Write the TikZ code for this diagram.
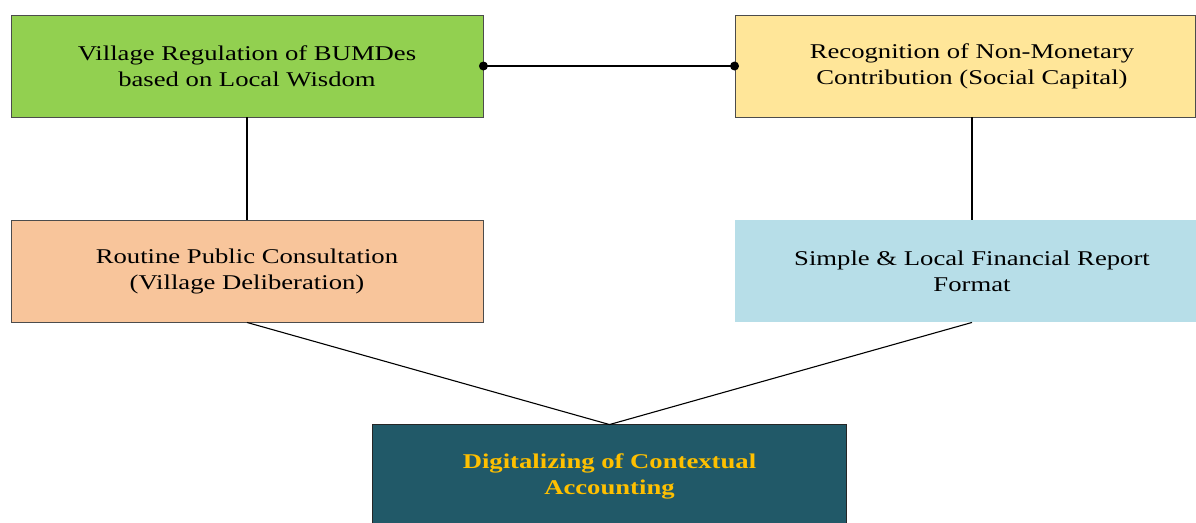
\documentclass[tikz,border=0pt]{standalone}
\usepackage{fontspec}
\setmainfont{Liberation Serif}[FakeStretch=1.27]
\definecolor{cgreen}{HTML}{92D050}
\definecolor{cyellow}{HTML}{FFE699}
\definecolor{corange}{HTML}{F8C59B}
\definecolor{cblue}{HTML}{B7DEE8}
\definecolor{cteal}{HTML}{215968}
\definecolor{cgold}{HTML}{FFC000}
\begin{document}
\begin{tikzpicture}[x=1pt,y=-1pt,
  box/.style={draw=black!70, line width=0.9pt, minimum width=472pt, minimum height=102pt,
    inner sep=0pt, align=center, font=\fontsize{21}{26}\selectfont},
  link/.style={draw=black, line width=1.1pt},
  dotend/.style={fill=black}]
\useasboundingbox (0,0) rectangle (1196,522);
\node[box, fill=cgreen] (g) at (247,66) {Village Regulation of BUMDes\\based on Local Wisdom};
\node[box, fill=cyellow, minimum width=460pt] (y) at (965,66) {\hspace*{14pt}Recognition of Non-Monetary\\\hspace*{14pt}Contribution (Social Capital)};
\node[box, fill=corange] (o) at (247,271) {Routine Public Consultation\\(Village Deliberation)};
\node[box, fill=cblue, draw=none, minimum width=474pt] (b) at (972,271) {Simple \& Local Financial Report\\Format};
\node[box, fill=cteal, text=cgold, draw=none, minimum width=473pt, font=\fontsize{21}{26}\selectfont\bfseries] (t) at (609.5,476) {Digitalizing of Contextual\\Accounting};
\draw[black!85, line width=0.9pt] (t.south west) -- (t.north west) -- (t.north east) -- (t.south east);
\draw[link] (g.east) -- (y.west);
\fill[dotend] (g.east) circle (4.5);
\fill[dotend] (y.west) circle (4.5);
\draw[link] (g.south) -- (o.north);
\draw[link] ([xshift=7pt]y.south) -- (b.north);
\draw[link] (o.south) -- (t.north);
\draw[link] (b.south) -- (t.north);
\end{tikzpicture}
\end{document}
